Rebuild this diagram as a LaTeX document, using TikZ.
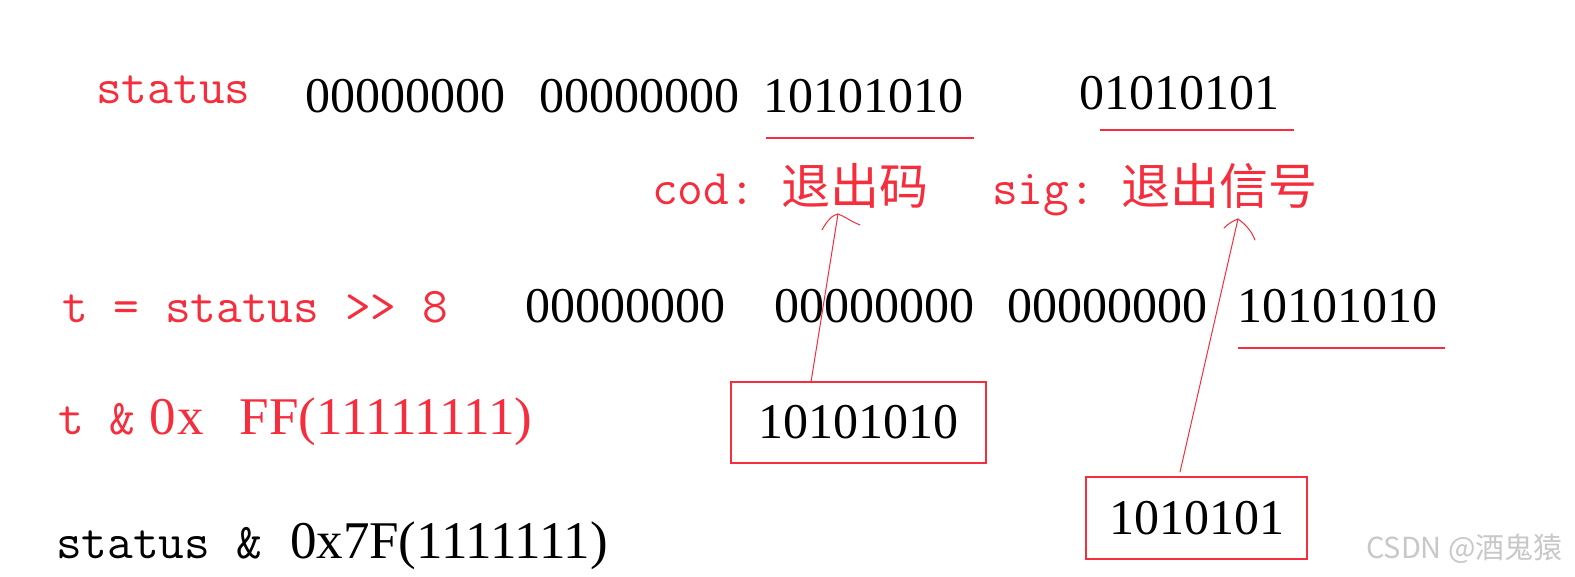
\documentclass[tikz,border=0pt]{standalone}
\usepackage{fontspec}
\setmainfont{Liberation Serif}
\newfontfamily\cjk{Noto Sans CJK SC}
\definecolor{rc}{RGB}{245,45,60}
\definecolor{wm}{RGB}{200,200,200}
\newcommand\monofnt{\ttfamily\addfontfeatures{FakeBold=0.6}\fontsize{50}{60}\selectfont}
\begin{document}
\begin{tikzpicture}[x=1pt,y=-1pt,
  txt/.style={anchor=base west,inner sep=0pt,outer sep=0pt},
  bits/.style={txt,font=\fontsize{50}{60}\selectfont},
  rtext/.style={txt,text=rc,font=\monofnt},
  ktext/.style={txt,font=\monofnt},
  sstext/.style={txt,font=\fontsize{53}{60}\selectfont},
  rcjk/.style={txt,text=rc,font=\cjk\fontsize{49}{58}\selectfont},
  uline/.style={draw=rc,line width=1.5pt},
  bitbox/.style={draw=rc,line width=1.8pt,inner sep=0pt,font=\fontsize{50}{60}\selectfont},
  ptr/.style={draw=rc,line width=1pt,line cap=round,line join=round}]
\useasboundingbox (0,0) rectangle (1575,577);
\fill[white] (0,0) rectangle (1575,577);

% row 1
\node[rtext] (st) at (96,104) {status};
\node[bits] (a1) at (305,113) {00000000};
\node[bits] (a2) at (539,113) {00000000};
\node[bits] (a3) at (763,113) {10101010};
\node[bits] (a4) at (1079,110) {01010101};
\coordinate (u1a) at (766,138); \coordinate (u1b) at (974,138);
\coordinate (u2a) at (1100,130); \coordinate (u2b) at (1294,130);
\draw[uline] (u1a) -- (u1b);
\draw[uline] (u2a) -- (u2b);

% row 2
\node[rtext] (cod) at (652,205) {cod:};
\node[rcjk] (codc) at (781,205) {退出码};
\node[rtext] (sig) at (992,205) {sig:};
\node[rcjk] (sigc) at (1121,205) {退出信号};

% row 3
\node[rtext] (shift) at (62,323) {t = status >> 8};
\node[bits] (b1) at (525,323) {00000000};
\node[bits] (b2) at (774,323) {00000000};
\node[bits] (b3) at (1007,323) {00000000};
\node[bits] (b4) at (1237,323) {10101010};
\coordinate (u3a) at (1238,348); \coordinate (u3b) at (1445,348);
\draw[uline] (u3a) -- (u3b);

% row 4
\node[rtext] (and1) at (58,435) {t \&};
\node[sstext,text=rc] (ff) at (149,435) {0\hspace{2pt}x\hspace{36pt}FF(11111111)};

% row 5
\node[ktext] (and2) at (56,558) {status \&};
\node[sstext] (sf) at (290,558) {0x7F(1111111)};

% boxes
\node[bitbox,minimum width=255pt,minimum height=81pt] (box1) at (858.5,422.5) {10101010};
\node[bitbox,minimum width=221pt,minimum height=82pt] (box2) at (1196.5,518) {1010101};

% pointers
\coordinate (s1) at (811,382);
\coordinate (t1) at (838,214);
\coordinate (s2) at (1180,472);
\coordinate (t2) at (1238,219);
\draw[ptr] (s1) -- (t1);
\draw[ptr] (t1) .. controls (833,215) and (828,219) .. (822,230);
\draw[ptr] (t1) .. controls (844,216) and (850,221) .. (860,225);
\draw[ptr] (s2) -- (t2);
\draw[ptr] (t2) .. controls (1233,221) and (1229,223) .. (1224,228);
\draw[ptr] (t2) .. controls (1245,224) and (1251,230) .. (1255,240);

% watermark
\node[txt,text=wm,font=\cjk\fontsize{29}{34}\selectfont] (wmk) at (1366,558) {CSDN @酒鬼猿};
\end{tikzpicture}
\end{document}
